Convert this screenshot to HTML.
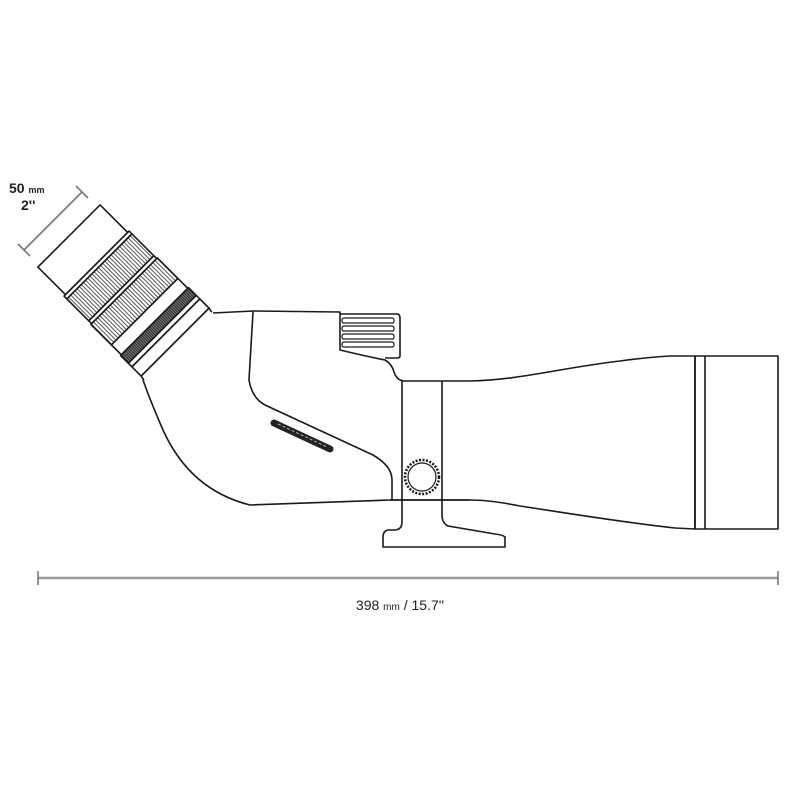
<!DOCTYPE html>
<html><head><meta charset="utf-8"><style>
html,body{margin:0;padding:0;background:#fff;}
svg{display:block;}
text{font-family:"Liberation Sans",sans-serif;fill:#222;}
</style></head><body>
<svg width="800" height="800" viewBox="0 0 800 800" xmlns="http://www.w3.org/2000/svg">
<defs>
<pattern id="kn" width="10" height="3" patternUnits="userSpaceOnUse">
<rect width="10" height="3" fill="#fff"/><line x1="0" y1="1.5" x2="10" y2="1.5" stroke="#444" stroke-width="0.9"/>
</pattern>
<pattern id="kd" width="10" height="2" patternUnits="userSpaceOnUse">
<rect width="10" height="2" fill="#777"/><line x1="0" y1="1" x2="10" y2="1" stroke="#222" stroke-width="0.9"/>
</pattern>
</defs>
<g fill="none" stroke="#1a1a1a" stroke-width="1.6" stroke-linejoin="round">
<path d="M213,313 L253,311 L340,312 L340,350 Q365,356 385,360 Q392,364 394,372 Q397,381 405,381 L470,381 C520,380 560,368 620,361 C640,358 655,357 670,356 L695,356 L695,529 L675,528 C620,522 560,512 520,506 C500,502 485,500 470,500 L390,500 L250,505 Q190,490 163,430 Q150,400 143,380"/>
<path d="M253,312 L249,380 Q252,398 265,405 L373,455 Q392,466 392,480 L392,500"/>
<rect x="695" y="356" width="83" height="173"/>
<line x1="705" y1="356" x2="705" y2="529"/>
<path d="M340,314 L398,314 Q400,315 400,318 L400,356 Q400,358 397,358 L385,358"/>
<g stroke-width="1.2">
<rect x="342" y="318" width="52" height="5" rx="2"/>
<rect x="342" y="326" width="52" height="5" rx="2"/>
<rect x="342" y="334" width="52" height="5" rx="2"/>
<rect x="342" y="342" width="52" height="5" rx="2"/>
</g>
<path d="M402,381 L402,522 Q402,530 394,530 L388,530 Q383,531 383,537 L383,547 L505,547 L505,537 Q503,535 495,534 L448,526 Q442,523 442,515 L442,381"/>
<line x1="390" y1="500" x2="470" y2="500"/>
<circle cx="422" cy="477" r="17" stroke-width="2.5" stroke-dasharray="2 1.5"/>
<circle cx="422" cy="477" r="14" stroke-width="1.2"/>
<g transform="translate(69,236) rotate(45)">
<path d="M155,-47 L150,-48 L150,48 L155,49" />
<rect x="0" y="-44" width="39" height="88" fill="#fff"/>
<rect x="39" y="-46" width="4" height="92" fill="#fff"/>
<rect x="43" y="-46" width="31" height="92" fill="url(#kn)"/>
<rect x="74" y="-46" width="4" height="92" fill="#fff"/>
<rect x="78" y="-47" width="29" height="94" fill="url(#kn)"/>
<rect x="107" y="-47" width="14" height="94" fill="#fff"/>
<rect x="121" y="-48" width="11" height="96" fill="url(#kd)"/>
<rect x="132" y="-48" width="5" height="96" fill="#fff"/>
<rect x="137" y="-48" width="13" height="96" fill="#fff"/>
</g>
<line x1="274" y1="423" x2="330" y2="449" stroke="#222" stroke-width="7" stroke-linecap="round"/>
</g>
<g stroke="#ccc" stroke-width="0.8" fill="none">
<line x1="278" y1="424" x2="327" y2="447" stroke-dasharray="3 2"/>
</g>
<g stroke="#777" stroke-width="1.6" fill="none">
<line x1="38" y1="578" x2="778" y2="578" stroke="#999" stroke-width="2.5"/>
<line x1="38" y1="571" x2="38" y2="585"/>
<line x1="778" y1="571" x2="778" y2="585"/>
<line x1="24" y1="250" x2="82" y2="192"/>
<line x1="18" y1="244" x2="30" y2="256"/>
<line x1="76" y1="186" x2="88" y2="198"/>
</g>
<text x="9" y="193" font-size="14" font-weight="bold">50 <tspan font-size="9">mm</tspan></text>
<text x="21" y="210" font-size="14" font-weight="bold">2''</text>
<text x="400" y="610" font-size="14" text-anchor="middle">398 <tspan font-size="10">mm</tspan> / 15.7''</text>
</svg>
</body></html>
